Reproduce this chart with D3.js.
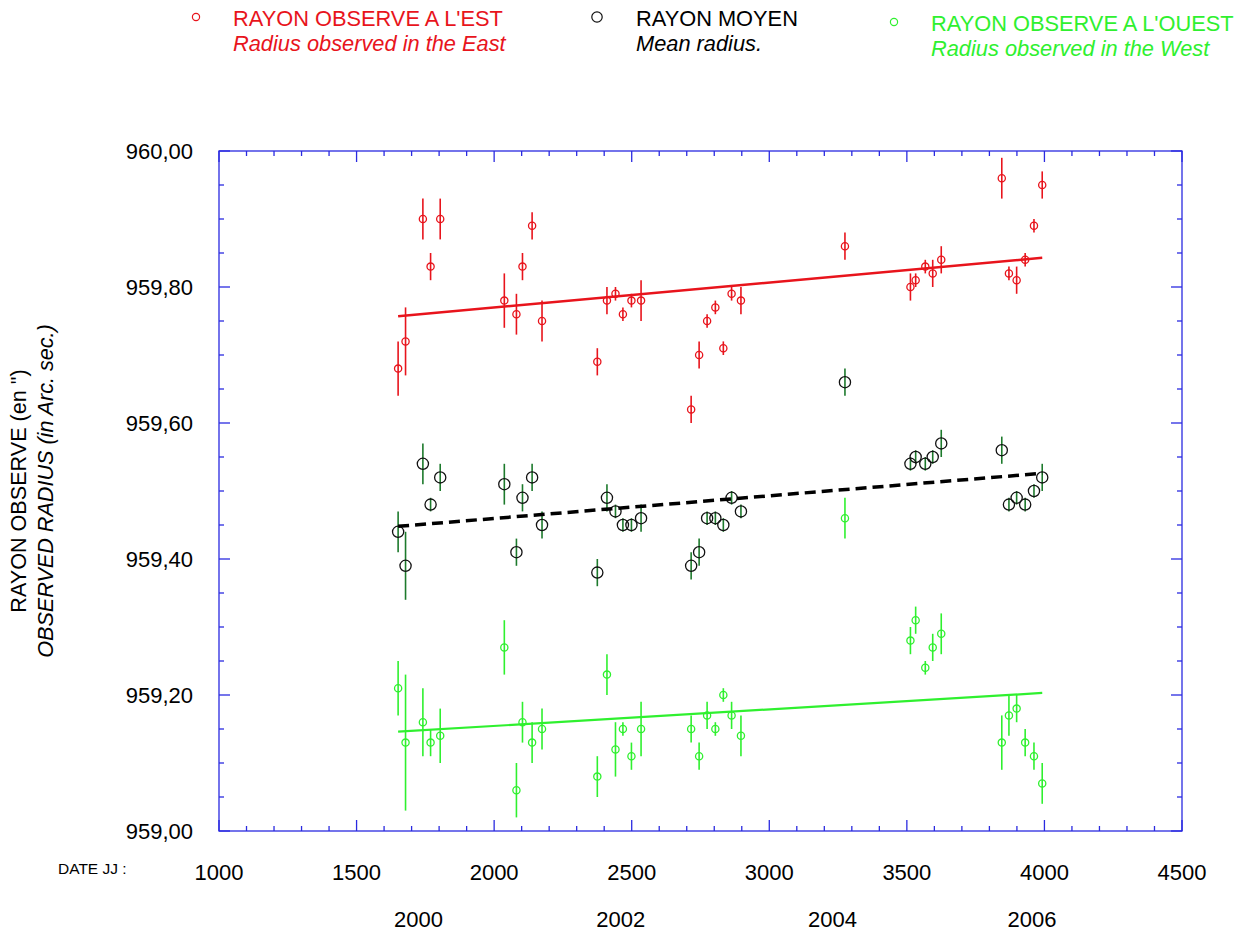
<!DOCTYPE html>
<html>
<head>
<meta charset="utf-8">
<script src="https://cdn.jsdelivr.net/npm/d3@7"></script>
<style>
  body { margin: 0; background: #fff; }
  text { font-family: "Liberation Sans", Arial, sans-serif; }
</style>
</head>
<body>
<svg width="1249" height="932"></svg>
<script>
// observation dates (JJ) shared by the three series
var jj = [1651, 1678, 1741, 1769, 1804, 2037, 2081, 2103, 2138, 2174, 2375, 2410, 2441, 2468, 2499, 2534,
          2716, 2745, 2774, 2804, 2833, 2863, 2897, 3275, 3513, 3532, 3567, 3594, 3625, 3845, 3871, 3899,
          3930, 3962, 3992];

var eastR = [959.68, 959.72, 959.90, 959.83, 959.90, 959.78, 959.76, 959.83, 959.89, 959.75, 959.69, 959.78,
             959.79, 959.76, 959.78, 959.78, 959.62, 959.70, 959.75, 959.77, 959.71, 959.79, 959.78, 959.86,
             959.80, 959.81, 959.83, 959.82, 959.84, 959.96, 959.82, 959.81, 959.84, 959.89, 959.95];
var eastErr = [0.04, 0.05, 0.03, 0.02, 0.03, 0.04, 0.03, 0.02, 0.02, 0.03, 0.02, 0.02, 0.01, 0.01, 0.01, 0.03,
               0.02, 0.02, 0.01, 0.01, 0.01, 0.01, 0.02, 0.02, 0.02, 0.01, 0.01, 0.02, 0.02, 0.03, 0.01, 0.02,
               0.01, 0.01, 0.02];

var meanR = [959.44, 959.39, 959.54, 959.48, 959.52, 959.51, 959.41, 959.49, 959.52, 959.45, 959.38, 959.49,
             959.47, 959.45, 959.45, 959.46, 959.39, 959.41, 959.46, 959.46, 959.45, 959.49, 959.47, 959.66,
             959.54, 959.55, 959.54, 959.55, 959.57, 959.56, 959.48, 959.49, 959.48, 959.50, 959.52];
var meanErr = [0.03, 0.05, 0.03, 0.01, 0.02, 0.03, 0.02, 0.02, 0.02, 0.02, 0.02, 0.02, 0.01, 0.01, 0.01, 0.02,
               0.02, 0.02, 0.01, 0.01, 0.01, 0.01, 0.01, 0.02, 0.01, 0.01, 0.01, 0.01, 0.02, 0.02, 0.01, 0.01,
               0.01, 0.01, 0.02];

var westR = [959.21, 959.13, 959.16, 959.13, 959.14, 959.27, 959.06, 959.16, 959.13, 959.15, 959.08, 959.23,
             959.12, 959.15, 959.11, 959.15, 959.15, 959.11, 959.17, 959.15, 959.20, 959.17, 959.14, 959.46,
             959.28, 959.31, 959.24, 959.27, 959.29, 959.13, 959.17, 959.18, 959.13, 959.11, 959.07];
var westErr = [0.04, 0.10, 0.05, 0.02, 0.04, 0.04, 0.04, 0.03, 0.03, 0.03, 0.03, 0.03, 0.04, 0.01, 0.02, 0.04,
               0.02, 0.02, 0.02, 0.01, 0.01, 0.02, 0.03, 0.03, 0.02, 0.02, 0.01, 0.02, 0.03, 0.04, 0.03, 0.02,
               0.02, 0.02, 0.03];

// regression lines, end points
var eastFit = [[1651, 959.757], [3992, 959.843]];
var meanFit = [[1651, 959.448], [3992, 959.526]];
var westFit = [[1651, 959.146], [3992, 959.203]];

var xTicks = [1000, 1500, 2000, 2500, 3000, 3500, 4000, 4500];
var yTicks = [959.0, 959.2, 959.4, 959.6, 959.8, 960.0];
var years = ["2000", "2002", "2004", "2006"];
var yearJJ = [1725, 2460, 3230, 3955];

var red = "#e8141c", green = "#2ff02f", dark = "#1d7a2c", blue = "#2a2ae0";

var svg = d3.select("svg");
var pLeft = 219, pRight = 1182, pTop = 151, pBottom = 831;

var x = d3.scaleLinear().domain([1000, 4500]).range([pLeft, pRight]);
var y = d3.scaleLinear().domain([959, 960]).range([pBottom, pTop]);

function fmt(v) { return v.toFixed(2).replace(".", ","); }

// frame and ticks (all pointing inward)
var frame = svg.append("g").attr("stroke", blue).attr("stroke-width", 1.3).attr("fill", "none");
frame.append("rect").attr("x", pLeft).attr("y", pTop).attr("width", pRight - pLeft).attr("height", pBottom - pTop);

d3.range(1000, 4501, 100).forEach(function(v) {
  var len = v % 500 === 0 ? 11 : 5;
  frame.append("line").attr("x1", x(v)).attr("x2", x(v)).attr("y1", pTop).attr("y2", pTop + len);
  frame.append("line").attr("x1", x(v)).attr("x2", x(v)).attr("y1", pBottom).attr("y2", pBottom - len);
});
d3.range(0, 21).forEach(function(i) {
  var v = 959 + i * 0.05;
  var len = i % 4 === 0 ? 11 : 5;
  frame.append("line").attr("x1", pLeft).attr("x2", pLeft + len).attr("y1", y(v)).attr("y2", y(v));
  frame.append("line").attr("x1", pRight).attr("x2", pRight - len).attr("y1", y(v)).attr("y2", y(v));
});

svg.selectAll("text.xt").data(xTicks).enter().append("text")
    .attr("class", "xt")
    .attr("x", function(d) { return x(d); })
    .attr("y", 880)
    .attr("text-anchor", "middle")
    .attr("font-size", 22)
    .text(function(d) { return d; });

svg.selectAll("text.yt").data(yTicks).enter().append("text")
    .attr("class", "yt")
    .attr("x", pLeft - 26)
    .attr("y", function(d) { return y(d) + 8; })
    .attr("text-anchor", "end")
    .attr("font-size", 22)
    .text(fmt);

svg.selectAll("text.yr").data(years).enter().append("text")
    .attr("class", "yr")
    .attr("x", function(d, i) { return x(yearJJ[i]); })
    .attr("y", 927)
    .attr("text-anchor", "middle")
    .attr("font-size", 22)
    .text(function(d) { return d; });

svg.append("text").attr("x", 58).attr("y", 874).attr("font-size", 15.5).text("DATE JJ :");

// y axis title
var yt = svg.append("g").attr("transform", "translate(26,491) rotate(-90)");
yt.append("text").attr("text-anchor", "middle").attr("font-size", 21.6).text("RAYON OBSERVE (en \")");
yt.append("text").attr("y", 27).attr("text-anchor", "middle").attr("font-size", 21.6)
    .attr("font-style", "italic").text("OBSERVED RADIUS (in Arc. sec.)");

// series
function series(vals, errs, barColor, ptColor, r) {
  var g = svg.append("g");
  g.selectAll("line").data(vals).enter().append("line")
      .attr("x1", function(d, i) { return x(jj[i]); })
      .attr("x2", function(d, i) { return x(jj[i]); })
      .attr("y1", function(d, i) { return y(d + errs[i]); })
      .attr("y2", function(d, i) { return y(d - errs[i]); })
      .attr("stroke", barColor)
      .attr("stroke-width", 1.6);
  g.selectAll("circle").data(vals).enter().append("circle")
      .attr("cx", function(d, i) { return x(jj[i]); })
      .attr("cy", function(d) { return y(d); })
      .attr("r", r)
      .attr("fill", "none")
      .attr("stroke", ptColor)
      .attr("stroke-width", 1.3);
}

var line = d3.line().x(function(d) { return x(d[0]); }).y(function(d) { return y(d[1]); });

series(eastR, eastErr, red, red, 3.6);
series(westR, westErr, green, green, 3.6);
series(meanR, meanErr, dark, "#111", 5.6);

svg.append("path").attr("d", line(eastFit)).attr("stroke", red).attr("stroke-width", 2.5).attr("fill", "none");
svg.append("path").attr("d", line(westFit)).attr("stroke", green).attr("stroke-width", 2.2).attr("fill", "none");
svg.append("path").attr("d", line(meanFit)).attr("stroke", "#000").attr("stroke-width", 3.5)
    .attr("stroke-dasharray", "11,6").attr("fill", "none");

// legend
var legend = [
  { x: 196, y: 17, r: 3.6, c: red, tx: 233, t1: "RAYON OBSERVE A L'EST", t2: "Radius observed in the East" },
  { x: 597, y: 17, r: 5.2, c: "#111", tx: 636, t1: "RAYON MOYEN", t2: "Mean radius." },
  { x: 894, y: 22, r: 3.6, c: green, tx: 931, t1: "RAYON OBSERVE A L'OUEST", t2: "Radius observed in the West" }
];
var lg = svg.selectAll("g.lg").data(legend).enter().append("g").attr("class", "lg");
lg.append("circle")
    .attr("cx", function(d) { return d.x; })
    .attr("cy", function(d) { return d.y; })
    .attr("r", function(d) { return d.r; })
    .attr("fill", "none")
    .attr("stroke", function(d) { return d.c; })
    .attr("stroke-width", 1.2);
lg.append("text")
    .attr("x", function(d) { return d.tx; })
    .attr("y", function(d) { return d.y + 9; })
    .attr("font-size", 21.8)
    .attr("fill", function(d) { return d.c === "#111" ? "#000" : d.c; })
    .text(function(d) { return d.t1; });
lg.append("text")
    .attr("x", function(d) { return d.tx; })
    .attr("y", function(d) { return d.y + 34; })
    .attr("font-size", 21.8)
    .attr("font-style", "italic")
    .attr("fill", function(d) { return d.c === "#111" ? "#000" : d.c; })
    .text(function(d) { return d.t2; });
</script>
</body>
</html>
